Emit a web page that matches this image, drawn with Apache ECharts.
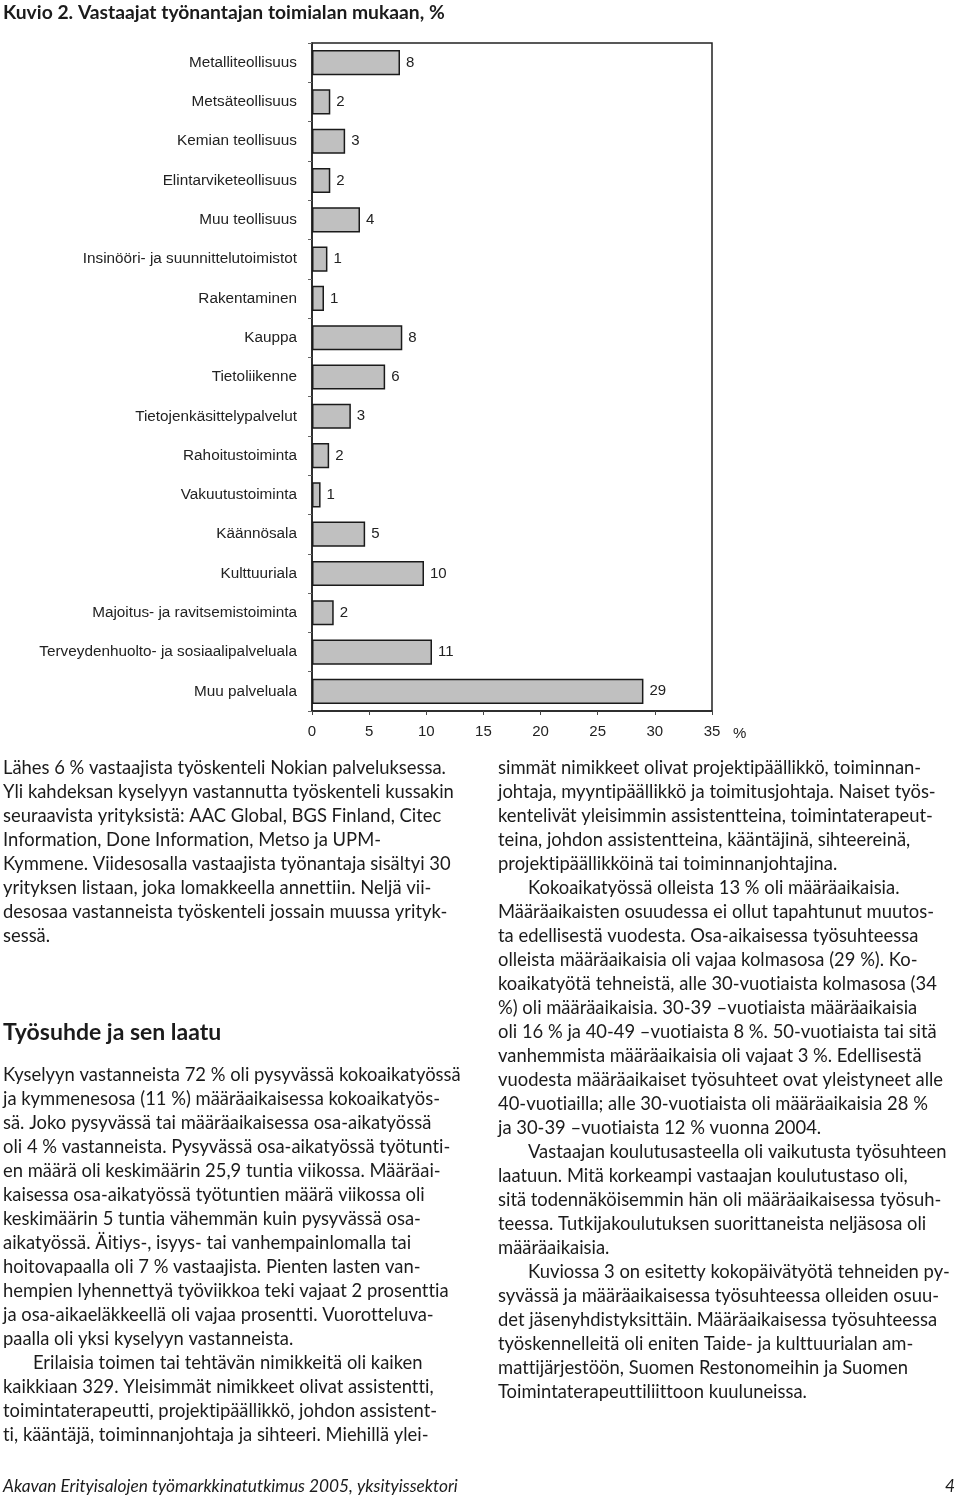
<!DOCTYPE html>
<html>
<head>
<meta charset="utf-8">
<script src="https://cdn.jsdelivr.net/npm/echarts@6/dist/echarts.min.js"></script>
<style>
html,body{margin:0;padding:0;background:#fff;}
#c{width:960px;height:1501px;}
</style>
</head>
<body>
<div id="c"></div>
<script>
const categories = [
  'Metalliteollisuus','Metsäteollisuus','Kemian teollisuus','Elintarviketeollisuus','Muu teollisuus',
  'Insinööri- ja suunnittelutoimistot','Rakentaminen','Kauppa','Tietoliikenne','Tietojenkäsittelypalvelut',
  'Rahoitustoiminta','Vakuutustoiminta','Käännösala','Kulttuuriala','Majoitus- ja ravitsemistoiminta',
  'Terveydenhuolto- ja sosiaalipalveluala','Muu palveluala'
];
const values = [7.7, 1.6, 2.9, 1.6, 4.2, 1.35, 1.05, 7.9, 6.4, 3.4, 1.5, 0.75, 4.65, 9.8, 1.9, 10.5, 29.0];
const valueLabels = [8, 2, 3, 2, 4, 1, 1, 8, 6, 3, 2, 1, 5, 10, 2, 11, 29];
const xTicks = [0, 35, 5];

const titleText = 'Kuvio 2. Vastaajat työnantajan toimialan mukaan, %';
const leftPara1 = [
  'Lähes 6 % vastaajista työskenteli Nokian palveluksessa.',
  'Yli kahdeksan kyselyyn vastannutta työskenteli kussakin',
  'seuraavista yrityksistä: AAC Global, BGS Finland, Citec',
  'Information, Done Information, Metso ja UPM-',
  'Kymmene. Viidesosalla vastaajista työnantaja sisältyi 30',
  'yrityksen listaan, joka lomakkeella annettiin. Neljä vii-',
  'desosaa vastanneista työskenteli jossain muussa yrityk-',
  'sessä.'
];
const headingText = 'Työsuhde ja sen laatu';
const leftPara2 = [
  'Kyselyyn vastanneista 72 % oli pysyvässä kokoaikatyössä',
  'ja kymmenesosa (11 %) määräaikaisessa kokoaikatyös-',
  'sä. Joko pysyvässä tai määräaikaisessa osa-aikatyössä',
  'oli 4 % vastanneista. Pysyvässä osa-aikatyössä työtunti-',
  'en määrä oli keskimäärin 25,9 tuntia viikossa. Määräai-',
  'kaisessa osa-aikatyössä työtuntien määrä viikossa oli',
  'keskimäärin 5 tuntia vähemmän kuin pysyvässä osa-',
  'aikatyössä. Äitiys-, isyys- tai vanhempainlomalla tai',
  'hoitovapaalla oli 7 % vastaajista. Pienten lasten van-',
  'hempien lyhennettyä työviikkoa teki vajaat 2 prosenttia',
  'ja osa-aikaeläkkeellä oli vajaa prosentti. Vuorotteluva-',
  'paalla oli yksi kyselyyn vastanneista.',
  '\tErilaisia toimen tai tehtävän nimikkeitä oli kaiken',
  'kaikkiaan 329. Yleisimmät nimikkeet olivat assistentti,',
  'toimintaterapeutti, projektipäällikkö, johdon assistent-',
  'ti, kääntäjä, toiminnanjohtaja ja sihteeri. Miehillä ylei-'
];
const rightLines = [
  'simmät nimikkeet olivat projektipäällikkö, toiminnan-',
  'johtaja, myyntipäällikkö ja toimitusjohtaja. Naiset työs-',
  'kentelivät yleisimmin assistentteina, toimintaterapeut-',
  'teina, johdon assistentteina, kääntäjinä, sihteereinä,',
  'projektipäällikköinä tai toiminnanjohtajina.',
  '\tKokoaikatyössä olleista 13 % oli määräaikaisia.',
  'Määräaikaisten osuudessa ei ollut tapahtunut muutos-',
  'ta edellisestä vuodesta. Osa-aikaisessa työsuhteessa',
  'olleista määräaikaisia oli vajaa kolmasosa (29 %). Ko-',
  'koaikatyötä tehneistä, alle 30-vuotiaista kolmasosa (34',
  '%) oli määräaikaisia. 30-39 –vuotiaista määräaikaisia',
  'oli 16 % ja 40-49 –vuotiaista 8 %. 50-vuotiaista tai sitä',
  'vanhemmista määräaikaisia oli vajaat 3 %. Edellisestä',
  'vuodesta määräaikaiset työsuhteet ovat yleistyneet alle',
  '40-vuotiailla; alle 30-vuotiaista oli määräaikaisia 28 %',
  'ja 30-39 –vuotiaista 12 % vuonna 2004.',
  '\tVastaajan koulutusasteella oli vaikutusta työsuhteen',
  'laatuun. Mitä korkeampi vastaajan koulutustaso oli,',
  'sitä todennäköisemmin hän oli määräaikaisessa työsuh-',
  'teessa. Tutkijakoulutuksen suorittaneista neljäsosa oli',
  'määräaikaisia.',
  '\tKuviossa 3 on esitetty kokopäivätyötä tehneiden py-',
  'syvässä ja määräaikaisessa työsuhteessa olleiden osuu-',
  'det jäsenyhdistyksittäin. Määräaikaisessa työsuhteessa',
  'työskennelleitä oli eniten Taide- ja kulttuurialan am-',
  'mattijärjestöön, Suomen Restonomeihin ja Suomen',
  'Toimintaterapeuttiliittoon kuuluneissa.'
];
const footerText = 'Akavan Erityisalojen työmarkkinatutkimus 2005, yksityissektori';
const pageNumber = '4';

// render text without typographic ligatures (the printed page has none)
(function () {
  const P = CanvasRenderingContext2D.prototype;
  const ft = P.fillText, mt = P.measureText;
  P.fillText = function () { if ('textRendering' in this) this.textRendering = 'optimizeSpeed'; return ft.apply(this, arguments); };
  P.measureText = function () { if ('textRendering' in this) this.textRendering = 'optimizeSpeed'; return mt.apply(this, arguments); };
})();

const BODY_FONT = 'Lato';
const BODY_SIZE = 18.4;
const LINE_H = 24;
const INK = '#1b1b1b';

function textBlock(lines, x, y0) {
  return lines.map((ln, i) => {
    const indent = ln.startsWith('\t');
    return {
      type: 'text',
      x: x + (indent ? 30 : 0),
      y: y0 + i * LINE_H,
      style: {
        text: indent ? ln.slice(1) : ln,
        fontFamily: BODY_FONT, fontSize: BODY_SIZE,
        fill: INK, verticalAlign: 'middle', align: 'left'
      }
    };
  });
}

const graphics = []
  .concat(textBlock(leftPara1, 3, 768))
  .concat(textBlock(leftPara2, 3, 1075))
  .concat(textBlock(rightLines, 498, 768))
  .concat([
    { type: 'text', x: 3, y: 1033, style: { text: headingText, fontFamily: BODY_FONT, fontWeight: 'bold', fontSize: 23, fill: INK, verticalAlign: 'middle' } },
    { type: 'text', x: 3, y: 1486, style: { text: footerText, fontFamily: BODY_FONT, fontStyle: 'italic', fontSize: 17.3, fill: INK, verticalAlign: 'middle' } },
    { type: 'text', x: 955, y: 1486, style: { text: pageNumber, fontFamily: BODY_FONT, fontStyle: 'italic', fontSize: 17.3, fill: INK, verticalAlign: 'middle', align: 'right' } }
  ]);

const chart = echarts.init(document.getElementById('c'), null, { renderer: 'canvas' });
chart.setOption({
  backgroundColor: '#ffffff',
  animation: false,
  title: {
    text: titleText, left: 1, top: 1, padding: 2,
    textStyle: { fontFamily: BODY_FONT, fontWeight: 'bold', fontSize: 19.3, color: INK }
  },
  grid: {
    left: 312, top: 43, width: 400, height: 668,
    show: true, borderColor: '#222', borderWidth: 1.5, backgroundColor: 'transparent'
  },
  xAxis: {
    type: 'value', min: xTicks[0], max: xTicks[1], interval: xTicks[2],
    name: '%', nameLocation: 'end', nameGap: 21,
    nameTextStyle: { fontFamily: 'Liberation Sans', fontSize: 15, color: '#222', verticalAlign: 'top', padding: [15, 0, 0, 0] },
    axisLine: { show: true, lineStyle: { color: '#222', width: 1.5 } },
    axisTick: { show: true, inside: false, length: 4, lineStyle: { color: '#444' } },
    axisLabel: { fontFamily: 'Liberation Sans', fontSize: 15, color: '#222', margin: 13 },
    splitLine: { show: false }
  },
  yAxis: {
    type: 'category', data: categories, inverse: true,
    axisLine: { show: true, lineStyle: { color: '#222', width: 1.5 } },
    axisTick: { show: true, inside: false, length: 4, lineStyle: { color: '#666' } },
    axisLabel: { fontFamily: 'Liberation Sans', fontSize: 15.3, color: '#222', margin: 15 },
    splitLine: { show: false }
  },
  series: [{
    type: 'bar', data: values, barWidth: '64%',
    itemStyle: { color: '#c0c0c0', borderColor: '#1a1a1a', borderWidth: 1.5 },
    label: {
      show: true, position: 'right', distance: 6,
      fontFamily: 'Liberation Sans', fontSize: 15, color: '#222',
      formatter: p => String(valueLabels[p.dataIndex])
    }
  }],
  graphic: graphics
});
</script>
</body>
</html>
